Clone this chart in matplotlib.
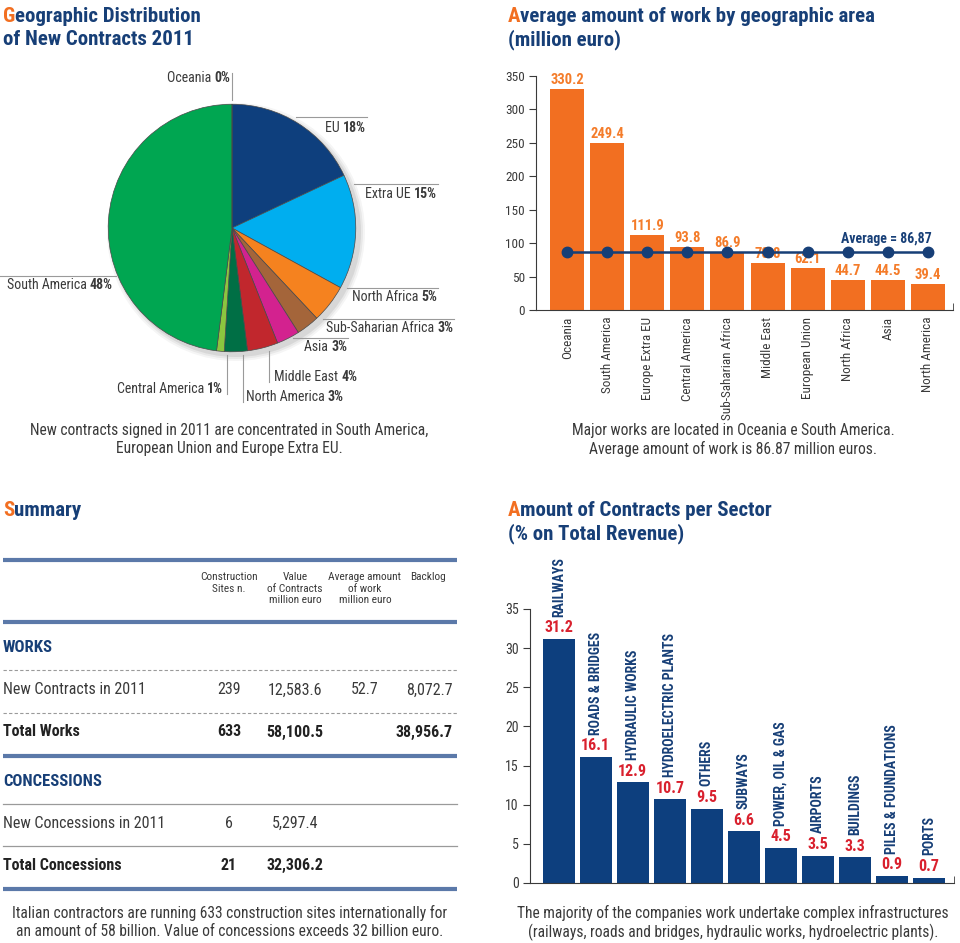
import matplotlib
matplotlib.use('Agg')
import matplotlib.pyplot as plt
from matplotlib import font_manager
from matplotlib.patches import Circle

# ---- data ----
pie_names = ['EU', 'Extra UE', 'North Africa', 'Sub-Saharian Africa', 'Asia',
             'Middle East', 'North America', 'Central America', 'South America', 'Oceania']
pie_values = [18, 15, 5, 3, 3, 4, 3, 1, 48, 0]
pie_colors = ['#0e3f7d', '#00aeef', '#f5821f', '#a4653a', '#d3228f',
              '#c1272d', '#006f45', '#8cc63f', '#00a651', '#7a7a7a']

regions = ['Oceania', 'South America', 'Europe Extra EU', 'Central America',
           'Sub-Saharian Africa', 'Middle East', 'European Union', 'North Africa',
           'Asia', 'North America']
avg_work = [330.2, 249.4, 111.9, 93.8, 86.9, 70.8, 62.1, 44.7, 44.5, 39.4]
average = 86.87

sectors = ['RAILWAYS', 'ROADS & BRIDGES', 'HYDRAULIC WORKS', 'HYDROELECTRIC PLANTS',
           'OTHERS', 'SUBWAYS', 'POWER, OIL & GAS', 'AIRPORTS', 'BUILDINGS',
           'PILES & FOUNDATIONS', 'PORTS']
sector_share = [31.2, 16.1, 12.9, 10.7, 9.5, 6.6, 4.5, 3.5, 3.3, 0.9, 0.7]

table_header = ['Construction\nSites n.', 'Value\nof Contracts\nmillion euro',
                'Average amount\nof work\nmillion euro', 'Backlog']
works_rows = [('New Contracts in 2011', '239', '12,583.6', '52.7', '8,072.7'),
              ('Total Works', '633', '58,100.5', '', '38,956.7')]
conc_rows = [('New Concessions in 2011', '6', '5,297.4', '', ''),
             ('Total Concessions', '21', '32,306.2', '', '')]

# ---- style ----
avail = {f.name for f in font_manager.fontManager.ttflist}
COND = next(f for f in ['Roboto Condensed', 'Liberation Sans Narrow', 'Roboto', 'DejaVu Sans']
            if f in avail)
plt.rcParams['font.family'] = [COND, 'DejaVu Sans']

W, H = 960, 943
NAVY = '#173f77'
ORANGE = '#f26f21'
RED = '#d9212e'
GREY = '#3a3a3a'
LBLUE = '#5b79a9'

fig = plt.figure(figsize=(W / 100, H / 100), dpi=100)
fig.set_facecolor('white')

# pixel canvas for free text and lines
bg = fig.add_axes([0, 0, 1, 1])
bg.set_xlim(0, W)
bg.set_ylim(H, 0)
bg.axis('off')
renderer = fig.canvas.get_renderer()


def px_axes(x0, y0, x1, y1):
    return fig.add_axes([x0 / W, 1 - y1 / H, (x1 - x0) / W, (y1 - y0) / H])


def text_width(t):
    return t.get_window_extent(renderer).width


def title(x, y, s, first=False):
    kw = dict(fontsize=15, fontweight='bold', va='baseline', ha='left')
    if first:
        t = bg.text(x, y, s[0], color=ORANGE, **kw)
        bg.text(x + text_width(t), y, s[1:], color=NAVY, **kw)
    else:
        bg.text(x, y, s, color=NAVY, **kw)


def pie_label(x, y, name, pct, ha):
    kw = dict(fontsize=10, color=GREY, va='center')
    if ha == 'right':
        t = bg.text(x, y, pct, fontweight='bold', ha='right', **kw)
        bg.text(x - text_width(t), y, name + ' ', ha='right', **kw)
    else:
        t = bg.text(x, y, name + ' ', ha='left', **kw)
        bg.text(x + text_width(t), y, pct, fontweight='bold', ha='left', **kw)


# ---- titles ----
title(3, 22, 'Geographic Distribution', True)
title(3, 45, 'of New Contracts 2011')
title(508, 22, 'Average amount of work by geographic area', True)
title(508, 45, '(million euro)')
title(3, 516, 'Summary', True)
title(508, 516, 'Amount of Contracts per Sector', True)
title(508, 539, '(% on Total Revenue)')

# ---- pie ----
for r, a in [(129, 0.04), (127, 0.05), (125, 0.07)]:
    bg.add_patch(Circle((236, 232), r, color='black', alpha=a, lw=0, zorder=0))
ax_pie = px_axes(232 - 125, 228 - 125, 232 + 125, 228 + 125)
ax_pie.pie(pie_values, colors=pie_colors, startangle=90, counterclock=False,
           wedgeprops=dict(edgecolor='#4a4a4a', linewidth=0.5))
ax_pie.set_xlim(-1.01, 1.01)
ax_pie.set_ylim(-1.01, 1.01)

pie_layout = {
    'Oceania': ([232, 232], [73, 100], 230, 78, 'right'),
    'EU': ([296, 367], [117, 117], 366, 128, 'right'),
    'Extra UE': ([354, 438], [184, 184], 437, 194, 'right'),
    'South America': ([0, 116], [276, 276], 113, 285, 'right'),
    'North Africa': ([347, 438], [288, 288], 437, 297, 'right'),
    'Sub-Saharian Africa': ([323, 454], [319, 319], 453, 328, 'right'),
    'Asia': ([293, 348], [338, 338], 347, 347, 'right'),
    'Middle East': ([269, 269], [351, 382], 274, 377, 'left'),
    'North America': ([243, 243], [355, 402], 246, 397, 'left'),
    'Central America': ([227, 227], [355, 394], 223, 389, 'right'),
}
for name, val in zip(pie_names, pie_values):
    lx, ly, tx, ty, ha = pie_layout[name]
    bg.plot(lx, ly, color='#9a9a9a', lw=0.8)
    pie_label(tx, ty, name, f'{val}%', ha)

cap = dict(fontsize=11.2, color=GREY, ha='center', va='center')
bg.text(229, 430, 'New contracts signed in 2011 are concentrated in South America,', **cap)
bg.text(229, 449, 'European Union and Europe Extra EU.', **cap)

# ---- average amount bar chart ----
ax1 = px_axes(536, 75.7, 953, 310)
x1 = range(len(regions))
ax1.bar(x1, avg_work, width=0.85, color=ORANGE, zorder=2)
for i, v in enumerate(avg_work):
    ax1.annotate(f'{v}', (i, v), xytext=(0, 1.5), textcoords='offset points',
                 ha='center', va='bottom', color='#f47c2a', fontsize=10.5,
                 fontweight='bold', zorder=3)
ax1.plot(x1, [average] * len(regions), color=NAVY, lw=1.8, marker='o',
         markersize=7.5, zorder=4)
ax1.annotate('Average = 86,87', (len(regions) - 1, average), xytext=(3, 4),
             textcoords='offset points', ha='right', va='bottom', color=NAVY,
             fontsize=10, fontweight='bold')
ax1.set_xlim(-0.78, 9.63)
ax1.set_ylim(0, 350)
ax1.set_yticks(range(0, 351, 50))
ax1.set_xticks(list(x1))
ax1.set_xticklabels(regions, rotation=90, fontsize=9.5, color=GREY)
ax1.set_xticks([9.63], minor=True)
ax1.tick_params(axis='x', which='major', length=0, pad=5)
ax1.tick_params(axis='x', which='minor', length=5, direction='in', color=GREY)
ax1.tick_params(axis='y', length=5, color=GREY, labelcolor=GREY, labelsize=9.5, pad=3)
for s in ['top', 'right']:
    ax1.spines[s].set_visible(False)
for s in ['left', 'bottom']:
    ax1.spines[s].set_color(GREY)
ax1.set_facecolor('none')

bg.text(733, 430, 'Major works are located in Oceania e South America.', **cap)
bg.text(733, 449, 'Average amount of work is 86.87 million euros.', **cap)

# ---- sector bar chart ----
ax2 = px_axes(530, 609, 954, 883)
x2 = range(len(sectors))
ax2.bar(x2, sector_share, width=0.86, color='#0d3f7e', zorder=2)
for i, v in enumerate(sector_share):
    ax2.annotate(f'{v}', (i, v), xytext=(0, 2.5), textcoords='offset points',
                 ha='center', va='bottom', color=RED, fontsize=11.5, fontweight='bold')
    ax2.annotate(sectors[i], (i, v), xytext=(0, 16), textcoords='offset points',
                 ha='center', va='bottom', rotation=90, color=NAVY, fontsize=10,
                 fontweight='bold')
ax2.set_xlim(-0.78, 10.68)
ax2.set_ylim(0, 35)
ax2.set_yticks(range(0, 36, 5))
ax2.set_xticks([])
ax2.set_xticks([10.68], minor=True)
ax2.tick_params(axis='x', which='minor', length=5, direction='in', color=GREY)
ax2.tick_params(axis='y', length=5, color=GREY, labelcolor=GREY, labelsize=10, pad=3)
for s in ['top', 'right']:
    ax2.spines[s].set_visible(False)
for s in ['left', 'bottom']:
    ax2.spines[s].set_color(GREY)
ax2.set_facecolor('none')

bg.text(733, 913, 'The majority of the companies work undertake complex infrastructures', **cap)
bg.text(733, 932, '(railways, roads and bridges, hydraulic works, hydroelectric plants).', **cap)

# ---- summary table ----
for y in [560, 622, 756, 889]:
    bg.plot([3, 457], [y, y], color=LBLUE, lw=3, solid_capstyle='butt')
for y in [670, 713]:
    bg.plot([3, 457], [y, y], color='#9a9a9a', lw=0.8, ls=(0, (3, 2)))
for y in [804, 846]:
    bg.plot([3, 457], [y, y], color='#9a9a9a', lw=0.9)

col_x = [229, 295, 365, 428]
for cx, h in zip(col_x, table_header):
    bg.text(cx, 572, h, ha='center', va='top', fontsize=8.2, color=GREY,
            linespacing=1.2)

sec = dict(fontsize=12, fontweight='bold', color=NAVY, va='center', ha='left')
bg.text(3, 647, 'WORKS', **sec)
bg.text(3, 781, 'CONCESSIONS', **sec)


def table_row(y, row, bold):
    kw = dict(fontsize=11.5, color='#222222' if bold else GREY, va='center',
              fontweight='bold' if bold else 'normal')
    bg.text(3, y, row[0], ha='left', **kw)
    bg.text(col_x[0], y, row[1], ha='center', **kw)
    bg.text(col_x[1], y, row[2], ha='center', **kw)
    bg.text(col_x[2], y, row[3], ha='center', **kw)
    bg.text(453, y, row[4], ha='right', **kw)


table_row(690, works_rows[0], False)
table_row(732, works_rows[1], True)
table_row(823, conc_rows[0], False)
table_row(865, conc_rows[1], True)

bg.text(230, 913, 'Italian contractors are running 633 construction sites internationally for', **cap)
bg.text(230, 932, 'an amount of 58 billion. Value of concessions exceeds 32 billion euro.', **cap)

fig.savefig('out.png', dpi=100)
plt.close()
